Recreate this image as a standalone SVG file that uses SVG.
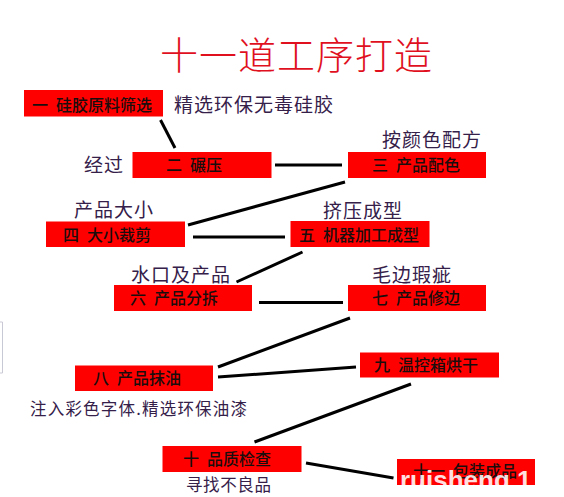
<svg xmlns="http://www.w3.org/2000/svg" width="564" height="497" viewBox="0 0 564 497">
<style>
.bg{fill:#ffffff}
.box{fill:#ff0000}
.bt{font-family:"Noto Sans CJK SC","Noto Sans",sans-serif;font-size:16px;font-weight:500;fill:#1a0d0d;word-spacing:4.5px}
.ann{font-family:"Noto Sans CJK SC","Noto Sans",sans-serif;font-size:19px;fill:#35204a;letter-spacing:1px}
.ann2{font-family:"Noto Sans CJK SC","Noto Sans",sans-serif;font-size:16.5px;fill:#35204a}
.title{font-family:"Noto Sans CJK SC","Noto Sans",sans-serif;font-size:38px;font-weight:300;fill:#e0101e;letter-spacing:1px}
.wm{font-family:"Liberation Sans",Arial,sans-serif;font-size:26px;font-weight:bold;fill:#ffffff;fill-opacity:0.88}
#connectors line{stroke:#000;stroke-width:3;stroke-linecap:butt}
</style>
<rect class="bg" x="0" y="0" width="564" height="497"/>
<path d="M0,322 H2.5 V373 H0" fill="none" stroke="#c9c9d6" stroke-width="1"/>
<text class="title" x="160" y="69">十一道工序打造</text>

<g id="connectors">
<line x1="160.5" y1="120" x2="175" y2="148"/>
<line x1="275" y1="165" x2="342" y2="165"/>
<line x1="345" y1="182" x2="188" y2="225"/>
<line x1="193" y1="237" x2="285" y2="237"/>
<line x1="302.5" y1="252" x2="236.5" y2="282"/>
<line x1="259" y1="302.5" x2="343" y2="302.5"/>
<line x1="350" y1="318" x2="218" y2="367"/>
<line x1="218" y1="377" x2="356" y2="367"/>
<line x1="411" y1="384" x2="254.5" y2="442"/>
<line x1="306" y1="463" x2="393.5" y2="478"/>
</g>

<g id="n1"><rect class="box" x="24" y="90" width="139" height="26.5"/><text class="bt" x="32" y="110.5">一 硅胶原料筛选</text></g>
<g id="n2"><rect class="box" x="132.5" y="152" width="139" height="26"/><text class="bt" x="166" y="171">二 碾压</text></g>
<g id="n3"><rect class="box" x="348" y="152" width="138" height="26"/><text class="bt" x="372" y="171">三 产品配色</text></g>
<g id="n4"><rect class="box" x="46" y="221.5" width="139" height="25.5"/><text class="bt" x="63" y="240.5">四 大小裁剪</text></g>
<g id="n5"><rect class="box" x="290.5" y="221" width="139" height="26"/><text class="bt" x="299" y="240.5">五 机器加工成型</text></g>
<g id="n6"><rect class="box" x="114" y="285" width="138" height="26"/><text class="bt" x="130" y="304">六 产品分拆</text></g>
<g id="n7"><rect class="box" x="348" y="285" width="138" height="26"/><text class="bt" x="372" y="304">七 产品修边</text></g>
<g id="n8"><rect class="box" x="75" y="365.5" width="138" height="25.5"/><text class="bt" x="93" y="384">八 产品抹油</text></g>
<g id="n9"><rect class="box" x="360" y="352.5" width="139" height="25"/><text class="bt" x="374" y="371">九 温控箱烘干</text></g>
<g id="n10"><rect class="box" x="162.5" y="446" width="139" height="26"/><text class="bt" x="183" y="465">十 品质检查</text></g>
<g id="n11"><rect class="box" x="397" y="459" width="138" height="26"/><text class="bt" x="413" y="477">十一 包装成品</text><text class="wm" x="400" y="489">ruisheng 1</text></g>

<g id="annotations">
<text class="ann" x="174" y="112">精选环保无毒硅胶</text>
<text class="ann" x="84" y="172">经过</text>
<text class="ann" x="382" y="146.5">按颜色配方</text>
<text class="ann" x="74" y="217">产品大小</text>
<text class="ann" x="323" y="218">挤压成型</text>
<text class="ann" x="131" y="282">水口及产品</text>
<text class="ann" x="372" y="281.5">毛边瑕疵</text>
<text class="ann2" x="30" y="415" letter-spacing="1.2">注入彩色字体.精选环保油漆</text>
<text class="ann2" x="186" y="491" letter-spacing="0.6">寻找不良品</text>
</g>
</svg>
